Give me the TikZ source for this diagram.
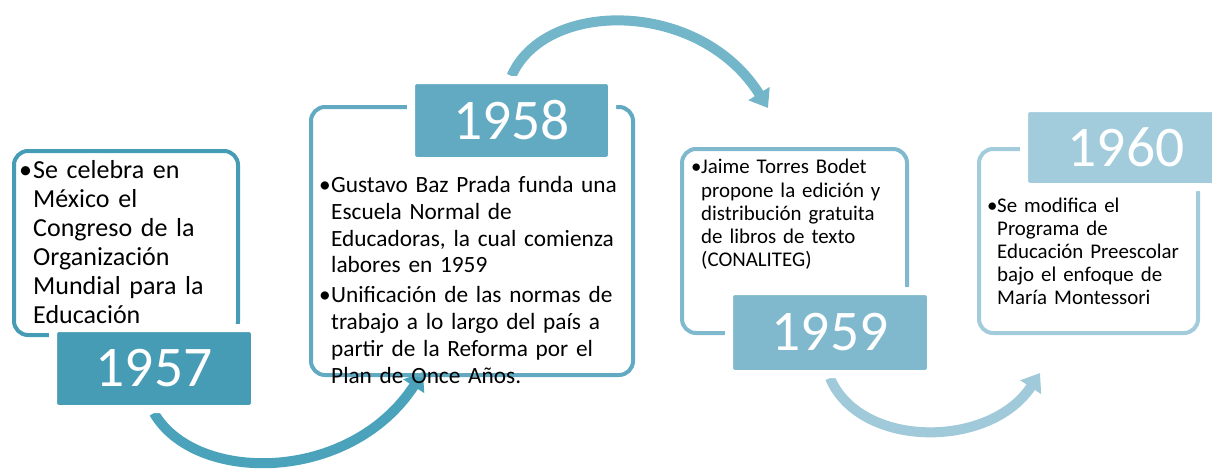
\documentclass[tikz,border=0pt]{standalone}
\usepackage{fontspec}
\setmainfont{Carlito}
\usetikzlibrary{arrows.meta,backgrounds}

\definecolor{c57}{HTML}{469CB4}
\definecolor{c58}{HTML}{62AAC2}
\definecolor{c59}{HTML}{80B9CD}
\definecolor{c60}{HTML}{A2CCDB}
\definecolor{a57}{HTML}{4AA3BA}
\definecolor{a58}{HTML}{73B6CA}
\definecolor{a59}{HTML}{A0CADA}

% bullet paragraph with hanging indent
\newcommand{\itembul}[2]{\par\hangindent=#1\hangafter=1\noindent\makebox[#1][l]{\textbullet}#2\par}

\tikzset{
  textbox/.style={draw, rounded corners=14pt, line width=4pt, anchor=north west, inner sep=0pt},
  yearbox/.style={draw=white, line width=8pt, rounded corners=6pt, text=white, inner sep=0pt,
    font=\fontsize{57.5}{60}\selectfont},
  bultext/.style={anchor=north west, align=left, inner sep=0pt},
  timearrow/.style={line width=10pt, -{Triangle[width=24pt,length=17pt]}},
}

\begin{document}
\begin{tikzpicture}[x=1pt,y=-1pt]
    \useasboundingbox (0,0) rectangle (1212,469);
    % text boxes
    \node[textbox, draw=c57, minimum width=224pt, minimum height=184pt] (tb57) at (12,149) {};
    \node[textbox, draw=c58, minimum width=322pt, minimum height=268pt] (tb58) at (309,105) {};
    \node[textbox, draw=c59, minimum width=225pt, minimum height=184pt] (tb59) at (680,147) {};
    \node[textbox, draw=c60, minimum width=219pt, minimum height=184pt] (tb60) at (977,147) {};
    % years
    \node[yearbox, fill=c57, minimum width=202pt, minimum height=81pt] (y57) at (154,368.5) {1957};
    \node[yearbox, fill=c58, minimum width=201pt, minimum height=81pt] (y58) at (511.5,120.5) {1958};
    \node[yearbox, fill=c59, minimum width=202pt, minimum height=83pt] (y59) at (830,332.5) {1959};
    \node[yearbox, fill=c60, minimum width=204pt, minimum height=79pt] (y60) at (1126,147.5) {1960};
    % texts
    \node[bultext, text width=215pt, font=\fontsize{26}{29}\selectfont] (t57) at (19,149.5)
      {\itembul{14pt}{Se celebra en\newline México el\newline Congreso de la\newline Organización\newline Mundial para la\newline Educación}};
    \node[bultext, text width=310pt, font=\fontsize{23.3}{26.7}\selectfont\setlength{\parskip}{3.3pt}] (t58) at (319,162.6)
      {\itembul{12pt}{Gustavo Baz Prada funda una\newline Escuela Normal de\newline Educadoras, la cual comienza\newline labores en 1959}
       \itembul{12pt}{Unificación de las normas de\newline trabajo a lo largo del país a\newline partir de la Reforma por el\newline Plan de Once Años.}};
    \node[bultext, text width=212pt, font=\fontsize{20.9}{23.25}\selectfont] (t59) at (691,150.3)
      {\itembul{10pt}{Jaime Torres Bodet\newline propone la edición y\newline distribución gratuita\newline de libros de texto\newline (CONALITEG)}};
    \node[bultext, text width=212pt, font=\fontsize{20.9}{23}\selectfont] (t60) at (987,189.3)
      {\itembul{10pt}{Se modifica el\newline Programa de\newline Educación Preescolar\newline bajo el enfoque de\newline María Montessori}};
    % arrow ends
    \coordinate (tip1) at (423,372);
    \coordinate (tip2) at (768,108);
    \coordinate (tip3) at (1040,373);
    \begin{scope}[on background layer]
    \draw[timearrow, a57] (y57.south) .. controls (195,484) and (350,484) .. (tip1);
    \draw[timearrow, a58] (y58.north) .. controls (545,-1) and (700,-1) .. (tip2);
    \draw[timearrow, a59] (y59.south) .. controls (860,449) and (990,449) .. (tip3);
    \end{scope}
\end{tikzpicture}
\end{document}
